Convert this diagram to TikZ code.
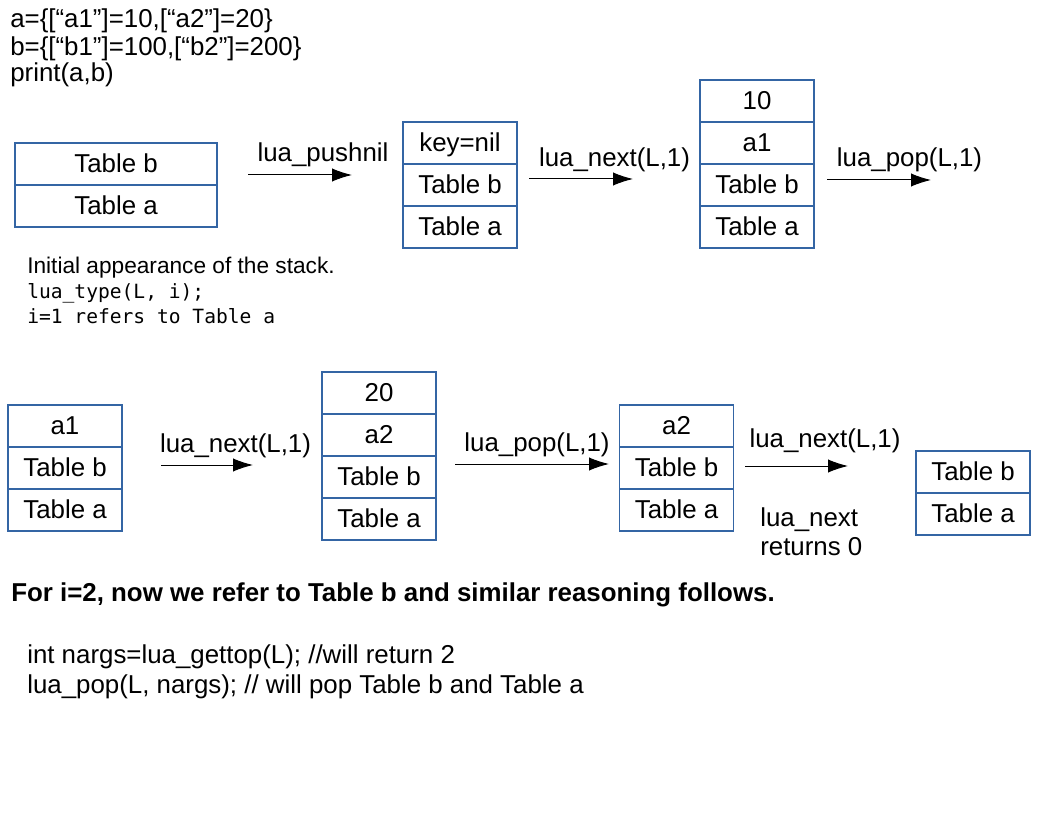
\documentclass[tikz,border=0pt]{standalone}
\usepackage{fontspec}
\setmainfont{Liberation Sans}
\newfontfamily\monof{DejaVu Sans Mono}
\usetikzlibrary{arrows.meta}
\definecolor{cellblue}{RGB}{52,101,164}
\tikzset{
  cell/.style={draw=cellblue, line width=0.9pt, minimum width=85.5pt, minimum height=31.5pt,
    inner sep=0pt, font=\fontsize{19.4pt}{23pt}\selectfont, text height=14pt, text depth=1pt},
  widecell/.style={cell, minimum width=151.5pt},
  lbl/.style={font=\fontsize{19.4pt}{23pt}\selectfont, anchor=base, inner sep=0pt},
  txt/.style={font=\fontsize{19.4pt}{23pt}\selectfont, anchor=base west, inner sep=0pt},
  smalltxt/.style={font=\fontsize{17pt}{20pt}\selectfont, anchor=base west, inner sep=0pt},
  monotxt/.style={font=\monof\fontsize{14.7pt}{18pt}\selectfont, anchor=base west, inner sep=0pt},
  boldtxt/.style={font=\bfseries\fontsize{19.4pt}{23pt}\selectfont, anchor=base west, inner sep=0pt},
  arr/.style={-{Latex[length=15pt,width=10pt]}, line width=0.75pt, black}
}
\begin{document}
\begin{tikzpicture}[x=0.75pt,y=-0.75pt]
\useasboundingbox (0,0) rectangle (1056,816);
% code at top
\node[txt] (c1) at (10,28) {a=\{[“a1”]=10,[“a2”]=20\}};
\node[txt] (c2) at (10,56) {b=\{[“b1”]=100,[“b2”]=200\}};
\node[txt] (c3) at (10,82) {print(a,b)};
% stack 1
\node[widecell] (s1b) at (116,164) {Table b};
\node[widecell] (s1a) at (116,206) {Table a};
% stack 2
\node[cell] (s2k) at (460,143) {key=nil};
\node[cell] (s2b) at (460,185) {Table b};
\node[cell] (s2a) at (460,227) {Table a};
% stack 3
\node[cell] (s3v) at (757,101) {10};
\node[cell] (s3k) at (757,143) {a1};
\node[cell] (s3b) at (757,185) {Table b};
\node[cell] (s3a) at (757,227) {Table a};
% stack 4
\node[cell] (s4k) at (65,426) {a1};
\node[cell] (s4b) at (65,468) {Table b};
\node[cell] (s4a) at (65,510) {Table a};
% stack 5
\node[cell] (s5v) at (379,393) {20};
\node[cell] (s5k) at (379,435) {a2};
\node[cell] (s5b) at (379,477) {Table b};
\node[cell] (s5a) at (379,519) {Table a};
% stack 6
\node[cell] (s6k) at (676.5,426) {a2};
\node[cell] (s6b) at (676.5,468) {Table b};
\node[cell] (s6a) at (676.5,510) {Table a};
% stack 7
\node[cell] (s7b) at (973,472) {Table b};
\node[cell] (s7a) at (973,514) {Table a};
% arrows
\coordinate (a1s) at (248,175); \coordinate (a1e) at (352,175);
\coordinate (a2s) at (529,179); \coordinate (a2e) at (633,179);
\coordinate (a3s) at (827,180); \coordinate (a3e) at (931,180);
\coordinate (a4s) at (161,465); \coordinate (a4e) at (253,465);
\coordinate (a5s) at (455,464); \coordinate (a5e) at (609,464);
\coordinate (a6s) at (745,466); \coordinate (a6e) at (848,466);
\draw[arr] (a1s) -- (a1e);
\draw[arr] (a2s) -- (a2e);
\draw[arr] (a3s) -- (a3e);
\draw[arr] (a4s) -- (a4e);
\draw[arr] (a5s) -- (a5e);
\draw[arr] (a6s) -- (a6e);
\node[lbl] (l1) at (323,162) {lua\_pushnil};
\node[lbl] (l2) at (614.5,166.7) {lua\_next(L,1)};
\node[lbl] (l3) at (909.5,166.7) {lua\_pop(L,1)};
\node[lbl] (l4) at (235.5,452.7) {lua\_next(L,1)};
\node[lbl] (l5) at (537,451.7) {lua\_pop(L,1)};
\node[lbl] (l6) at (825,447.3) {lua\_next(L,1)};
\node[txt] (r1) at (760,526.7) {lua\_next};
\node[txt] (r2) at (760,555) {returns 0};
% notes
\node[smalltxt] (n1) at (27,273.3) {Initial appearance of the stack.};
\node[monotxt] (n2) at (27,298.3) {lua\_type(L, i);};
\node[monotxt] (n3) at (27,323.3) {i=1 refers to Table a};
\node[boldtxt] (b1) at (11,601.7) {For i=2, now we refer to Table b and similar reasoning follows.};
\node[txt] (e1) at (27,663.3) {int nargs=lua\_gettop(L); //will return 2};
\node[txt] (e2) at (27,693) {lua\_pop(L, nargs); // will pop Table b and Table a};
\end{tikzpicture}
\end{document}
